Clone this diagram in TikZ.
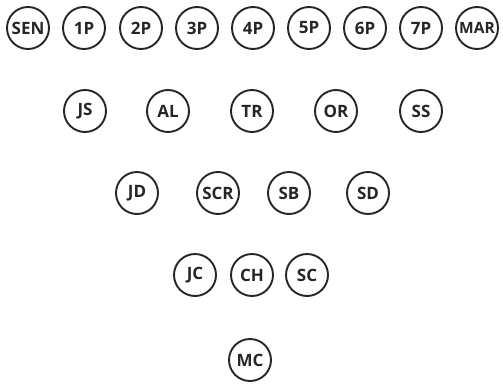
\documentclass[tikz,border=0pt]{standalone}
\usepackage{fontspec}
\setmainfont{Open Sans}
\begin{document}
\begin{tikzpicture}[x=1pt,y=-1pt,
  player/.style={circle,draw=black!85,line width=1.9pt,minimum size=42pt,inner sep=0pt,
    font=\fontsize{17}{17}\selectfont\bfseries,text=black!85}]
\useasboundingbox (0,0) rectangle (503,383);
\node[player] (sen) at (28,28) {SEN};
\node[player] (p1) at (84,28) {1P};
\node[player] (p2) at (141,28) {2P};
\node[player] (p3) at (197,28) {3P};
\node[player] (p4) at (253,28) {4P};
\node[player] (p5) at (309,28) {5P};
\node[player] (p6) at (365,28) {6P};
\node[player] (p7) at (421,28) {7P};
\node[player,font=\fontsize{15.5}{15.5}\selectfont\bfseries] (mar) at (477,28) {MAR};
\node[player] (js) at (85,111) {JS};
\node[player] (al) at (168,111) {AL};
\node[player] (tr) at (252,111) {TR};
\node[player] (or) at (336,111) {OR};
\node[player] (ss) at (421,111) {SS};
\node[player] (jd) at (137,193) {JD};
\node[player] (scr) at (218,193) {SCR};
\node[player] (sb) at (289,193) {SB};
\node[player] (sd) at (368,193) {SD};
\node[player] (jc) at (195,275) {JC};
\node[player] (ch) at (252,275) {CH};
\node[player] (sc) at (307,275) {SC};
\node[player] (mc) at (250,360) {MC};
\end{tikzpicture}
\end{document}
